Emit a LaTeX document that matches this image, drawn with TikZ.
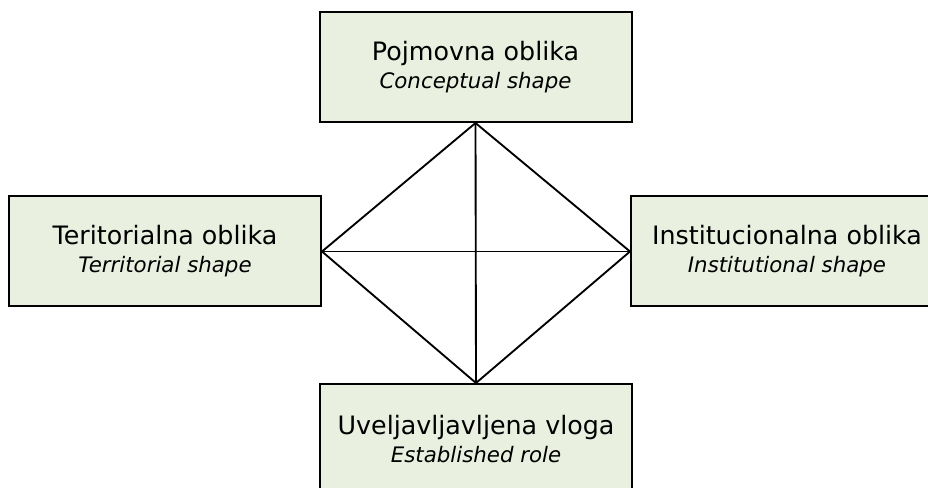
\documentclass[tikz,border=0pt]{standalone}
\usepackage{fontspec}
\setmainfont{DejaVu Sans}
\definecolor{boxfill}{RGB}{233,240,223}
\begin{document}
\begin{tikzpicture}[x=0.75pt,y=-0.75pt,
  shapebox/.style={draw=black,line width=1.5pt,fill=boxfill,rectangle,
    minimum width=312*0.75pt,minimum height=110*0.75pt,inner sep=0pt,
    align=center,font=\fontsize{19}{21}\selectfont},
  link/.style={draw=black,line width=1.4pt}]
\newcommand{\subline}[1]{{\fontsize{16}{18}\selectfont\itshape #1}}
\useasboundingbox (0,0) rectangle (928,488);
\clip (0,0) rectangle (928,488);
\node[shapebox] (top) at (475.5,67) {Pojmovna oblika\\[0pt]\subline{Conceptual shape}};
\node[shapebox] (left) at (165,251.5) {Teritorialna oblika\\[0pt]\subline{Territorial shape}};
\node[shapebox] (right) at (787,251.5) {Institucionalna oblika\\[0pt]\subline{Institutional shape}};
\node[shapebox] (bottom) at (476,439) {Uveljavljavljena vloga\\[0pt]\subline{Established role}};
\draw[link] (top.south) -- (left.east) -- (bottom.north) -- (right.west) -- cycle;
\draw[link] (top.south) -- (bottom.north);
\draw[link] (left.east) -- (right.west);
\end{tikzpicture}
\end{document}
